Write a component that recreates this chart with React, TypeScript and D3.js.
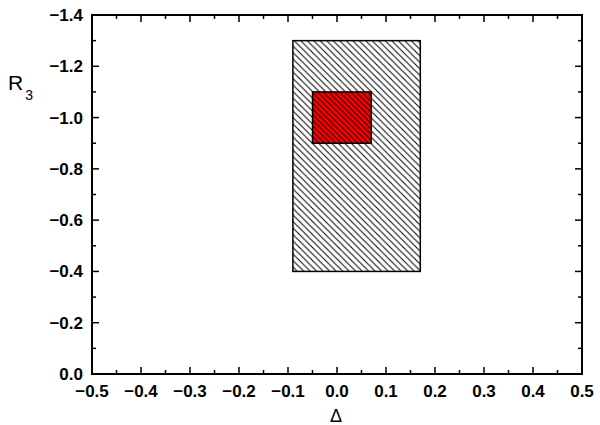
import React, { useEffect, useRef } from 'react';
import * as d3 from 'd3';

const xTicks = [-0.5, -0.4, -0.3, -0.2, -0.1, 0.0, 0.1, 0.2, 0.3, 0.4, 0.5];
const yTicks = [0.0, -0.2, -0.4, -0.6, -0.8, -1.0, -1.2, -1.4];
const regionNames = ['outer', 'inner'];
const regionX = [[-0.09, 0.17], [-0.05, 0.07]];
const regionY = [[-0.4, -1.3], [-0.9, -1.1]];
const regionFill = ['#ffffff', '#ff0000'];

export default function App() {
  const ref = useRef<SVGSVGElement>(null);

  useEffect(() => {
    const width = 600;
    const height = 425;
    const m = { left: 92, right: 18, top: 15, bottom: 51 };
    const svg = d3.select(ref.current).attr('width', width).attr('height', height);
    svg.selectAll('*').remove();

    const x = d3.scaleLinear().domain([-0.5, 0.5]).range([m.left, width - m.right]);
    const y = d3.scaleLinear().domain([0, -1.4]).range([height - m.bottom, m.top]);

    const defs = svg.append('defs');
    regionNames.forEach((name, i) => {
      const s = i === 0 ? 6.5 : 5.5;
      const p = defs.append('pattern')
        .attr('id', 'hatch-' + name)
        .attr('patternUnits', 'userSpaceOnUse')
        .attr('width', s)
        .attr('height', s);
      p.append('rect').attr('width', s).attr('height', s).attr('fill', regionFill[i]);
      p.append('path')
        .attr('d', `M0,0 L${s},${s} M${-s},0 L${s},${2 * s} M0,${-s} L${2 * s},${s}`)
        .attr('stroke', '#000')
        .attr('stroke-width', 1);
    });

    regionNames.forEach((name, i) => {
      svg.append('rect')
        .attr('x', x(regionX[i][0]))
        .attr('y', y(regionY[i][1]))
        .attr('width', x(regionX[i][1]) - x(regionX[i][0]))
        .attr('height', y(regionY[i][0]) - y(regionY[i][1]))
        .attr('fill', `url(#hatch-${name})`)
        .attr('stroke', '#000')
        .attr('stroke-width', 1.5);
    });

    const g = svg.append('g');
    const [x0, x1] = x.range();
    const [y0, y1] = y.range();

    // minor ticks
    const xMinor = d3.range(-0.45, 0.5, 0.1);
    const yMinor = d3.range(-0.1, -1.4, -0.2);
    xMinor.forEach(v => {
      g.append('line').attr('x1', x(v)).attr('x2', x(v)).attr('y1', y0).attr('y2', y0 - 4).attr('stroke', '#000').attr('stroke-width', 1.5);
      g.append('line').attr('x1', x(v)).attr('x2', x(v)).attr('y1', y1).attr('y2', y1 + 4).attr('stroke', '#000').attr('stroke-width', 1.5);
    });
    yMinor.forEach(v => {
      g.append('line').attr('x1', x0).attr('x2', x0 + 4).attr('y1', y(v)).attr('y2', y(v)).attr('stroke', '#000').attr('stroke-width', 1.5);
      g.append('line').attr('x1', x1).attr('x2', x1 - 4).attr('y1', y(v)).attr('y2', y(v)).attr('stroke', '#000').attr('stroke-width', 1.5);
    });
    xTicks.forEach(v => {
      g.append('line').attr('x1', x(v)).attr('x2', x(v)).attr('y1', y0).attr('y2', y0 - 7).attr('stroke', '#000').attr('stroke-width', 1.5);
      g.append('line').attr('x1', x(v)).attr('x2', x(v)).attr('y1', y1).attr('y2', y1 + 7).attr('stroke', '#000').attr('stroke-width', 1.5);
      g.append('text').attr('x', x(v)).attr('y', y0 + 23).attr('text-anchor', 'middle')
        .attr('font-family', 'Liberation Sans, Arial, sans-serif').attr('font-weight', 'bold').attr('font-size', 17)
        .text(d3.format('.1f')(v));
    });
    yTicks.forEach(v => {
      g.append('line').attr('x1', x0).attr('x2', x0 + 7).attr('y1', y(v)).attr('y2', y(v)).attr('stroke', '#000').attr('stroke-width', 1.5);
      g.append('line').attr('x1', x1).attr('x2', x1 - 7).attr('y1', y(v)).attr('y2', y(v)).attr('stroke', '#000').attr('stroke-width', 1.5);
      g.append('text').attr('x', x0 - 9).attr('y', y(v) + 6).attr('text-anchor', 'end')
        .attr('font-family', 'Liberation Sans, Arial, sans-serif').attr('font-weight', 'bold').attr('font-size', 17)
        .text(d3.format('.1f')(v));
    });

    g.append('rect').attr('x', x0).attr('y', y1).attr('width', x1 - x0).attr('height', y0 - y1)
      .attr('fill', 'none').attr('stroke', '#000').attr('stroke-width', 2);

    const yl = svg.append('text').attr('x', 8).attr('y', 90)
      .attr('font-family', 'Liberation Sans, Arial, sans-serif').attr('font-size', 21);
    yl.append('tspan').text('R');
    yl.append('tspan').attr('font-size', 14).attr('dx', 2).attr('dy', 10).text('3');

    svg.append('text').attr('x', (x0 + x1) / 2 - 1).attr('y', 422).attr('text-anchor', 'middle')
      .attr('font-family', 'Liberation Sans, Arial, sans-serif').attr('font-size', 18)
      .text('Δ');
  }, []);

  return <svg ref={ref} style={{ position: 'absolute', left: 0, top: 0 }}></svg>;
}
